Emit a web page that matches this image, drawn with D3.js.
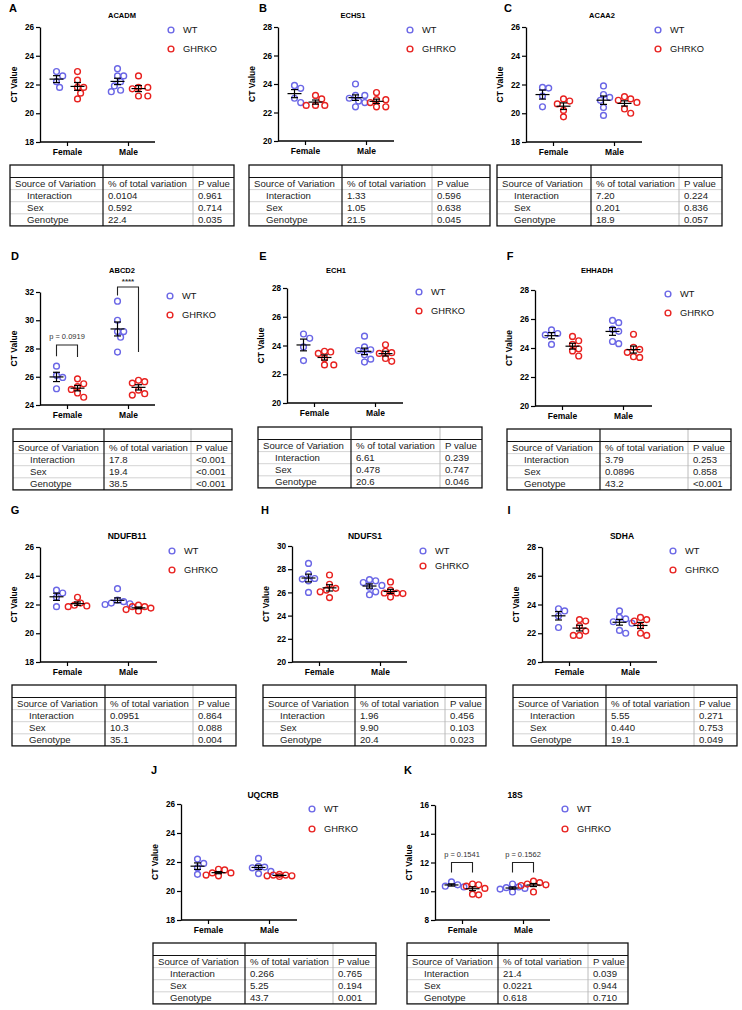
<!DOCTYPE html>
<html><head><meta charset="utf-8">
<script src="https://cdn.jsdelivr.net/npm/d3@7"></script>
<style>body{margin:0;background:#fff} svg{display:block} text{font-family:Arial,"Liberation Sans",sans-serif}</style>
</head><body><svg id="c" width="742" height="1010"></svg>
<script>
// ---------------- DATA ----------------
const genes = ["ACADM","ECHS1","ACAA2","ABCD2","ECH1","EHHADH","NDUFB11","NDUFS1","SDHA","UQCRB","18S"];
const panelLetters = ["A","B","C","D","E","F","G","H","I","J","K"];
const sexes = ["Female","Male"];
const genotypes = ["WT","GHRKO"];
const sources = ["Interaction","Sex","Genotype"];
const tableHeader = ["Source of Variation","% of total variation","P value"];
const yLabel = "CT Value";

// CT values per gene: [WT Female, GHRKO Female, WT Male, GHRKO Male]
const ACADM  = [[22.9,22.6,22.2,21.8],[22.9,22.3,21.8,21.8,21.4,21.0],[23.1,22.6,22.6,22.2,21.9,21.6,21.5],[22.6,21.8,21.8,21.7,21.2,21.2]];
const ECHS1  = [[23.9,23.7,22.7,23.0],[23.2,22.95,22.5,22.5,22.5],[24.0,23.2,23.2,23.0,22.8,22.7,22.4],[23.4,22.9,22.9,22.7,22.4,22.4]];
const ACAA2  = [[21.8,21.75,21.2,20.45],[21.0,20.85,20.65,20.2,19.75],[21.9,21.3,21.1,20.9,20.4,19.85],[21.0,21.15,20.9,20.75,20.3,20.0]];
const ABCD2  = [[26.75,26.1,25.95,25.15],[25.85,25.5,25.3,25.1,24.85,24.55],[31.35,30.0,29.2,29.2,28.8,27.75],[25.65,25.75,25.55,25.05,24.7,24.8]];
const ECH1   = [[24.5,24.8,23.9,22.95],[23.55,23.6,23.45,23.1,22.65,22.65],[24.65,23.9,23.7,23.65,23.35,23.05,22.85],[24.05,23.6,23.5,23.45,22.9,23.1]];
const EHHADH = [[25.0,25.25,24.9,24.25],[24.8,24.5,24.25,23.95,23.8,23.45],[25.75,25.9,25.3,25.15,24.3,24.45],[24.95,24.05,23.9,23.7,23.35,23.4]];
const NDUFB11= [[22.8,23.0,22.5,21.85],[22.5,22.1,21.95,21.85,21.9],[23.1,22.3,22.2,22.0,22.05,22.1],[21.95,21.85,21.85,21.75,21.55,21.65]];
const NDUFS1 = [[28.5,27.6,27.15,27.0,27.2,26.0],[27.5,26.7,26.35,26.2,26.05,25.55],[26.85,27.0,27.1,26.45,25.8,26.05,26.6],[26.9,26.2,25.95,25.9,25.6,25.95]];
const SDHA   = [[23.55,23.7,23.2,22.4],[22.85,22.95,22.5,22.15,21.85,21.85],[23.55,23.1,23.0,22.7,22.0,22.2,22.8],[23.1,22.95,22.85,22.5,21.85,22.0]];
const UQCRB  = [[21.9,22.2,21.6,21.15],[21.45,21.5,21.25,21.05,21.25,21.1],[22.25,21.7,21.6,21.2,21.35,21.65],[21.05,21.1,21.05,21.0,21.1,21.15]];
const S18    = [[10.35,10.65,10.45,10.3],[10.45,10.5,10.2,9.75,9.8,10.35],[10.15,10.25,10.5,10.2,9.95,10.3],[10.7,10.6,10.45,10.4,9.95,10.5]];
const ctValues = [ACADM,ECHS1,ACAA2,ABCD2,ECH1,EHHADH,NDUFB11,NDUFS1,SDHA,UQCRB,S18];

// y-axis domains [min, max] and tick step
const yDomains = [[18,26],[20,28],[18,26],[24,32],[20,28],[20,28],[18,26],[20,30],[20,28],[18,26],[8,16]];
const yTickStep = 2;

// Two-way ANOVA tables
const pctVariation = [["0.0104","0.592","22.4"],["1.33","1.05","21.5"],["7.20","0.201","18.9"],["17.8","19.4","38.5"],["6.61","0.478","20.6"],["3.79","0.0896","43.2"],["0.0951","10.3","35.1"],["1.96","9.90","20.4"],["5.55","0.440","19.1"],["0.266","5.25","43.7"],["21.4","0.0221","0.618"]];
const pValues = [["0.961","0.714","0.035"],["0.596","0.638","0.045"],["0.224","0.836","0.057"],["<0.001","<0.001","<0.001"],["0.239","0.747","0.046"],["0.253","0.858","<0.001"],["0.864","0.088","0.004"],["0.456","0.103","0.023"],["0.271","0.753","0.049"],["0.765","0.194","0.001"],["0.039","0.944","0.710"]];

// Comparison brackets: [gene index, sex1, geno1, sex2, geno2, y top, y leg1 end, y leg2 end, label]
const brackets = [
  [3,"Female","WT","Female","GHRKO",28.25,27.45,27.4,"p = 0.0919"],
  [3,"Male","WT","Male","GHRKO",32.35,31.75,27.75,"****"],
  [10,"Female","WT","Female","GHRKO",12.0,11.3,11.3,"p = 0.1541"],
  [10,"Male","WT","Male","GHRKO",12.0,11.3,11.3,"p = 0.1562"]
];

// ---------------- LAYOUT ----------------
const colors = {WT:"#6a66e6", GHRKO:"#e8211f"};
const layout = [
 {ax:40, xe:155, top:27, bot:142, tx:122, ty:15, tfs:7.5, lab:[13,8], leg:[171,30,49], tab:[10,234,103,193,165]},
 {ax:278,xe:394, top:27, bot:141, tx:353, ty:15, tfs:7.5, lab:[263,8], leg:[410,30,49], tab:[249,490,342,432,165]},
 {ax:526,xe:642, top:27, bot:142, tx:602, ty:15, tfs:7.5, lab:[508,8], leg:[658,30,49], tab:[497,722,591,679,165]},
 {ax:40, xe:155, top:292,bot:405, tx:122, ty:270, tfs:7.5, lab:[15,256], leg:[170,296,315], tab:[13,232,104,191,429]},
 {ax:287,xe:403, top:288,bot:403, tx:336, ty:270, tfs:7.5, lab:[263,256], leg:[419,292,311], tab:[258,482,351,440,427]},
 {ax:535,xe:652, top:290,bot:406, tx:597, ty:270, tfs:7.5, lab:[510,256], leg:[668,294,313], tab:[507,731,600,688,429]},
 {ax:40, xe:157, top:547,bot:662, tx:127, ty:536, tfs:8.5, lab:[15,510], leg:[172,551,570], tab:[12,236,105,193,685]},
 {ax:292,xe:407, top:546,bot:662, tx:365, ty:536, tfs:8.5, lab:[265,510], leg:[423,551,566], tab:[263,486,355,445,685]},
 {ax:542,xe:657, top:547,bot:662, tx:622, ty:536, tfs:8.5, lab:[509,510], leg:[673,551,570], tab:[513,737,606,694,685]},
 {ax:181,xe:297, top:804,bot:920, tx:263, ty:795, tfs:8.5, lab:[154,770], leg:[312,809,829], tab:[153,376,245,333,943]},
 {ax:435,xe:550, top:805,bot:920, tx:515, ty:795, tfs:8.5, lab:[408,770], leg:[565,809,829], tab:[407,628,498,588,943]}
];

const svg = d3.select("#c");
const R = 2.9;

// compact beeswarm: each point takes the closest free offset to its group centre
function dodge(vals, y, cx) {
  const pts = vals.map(v => ({v, py: y(v)})).sort((a,b) => a.py - b.py);
  const placed = [], D = 6.2, s = 3.1;
  const cands = [0]; for (let k = 1; k <= 4; k++) cands.push(k*s, -k*s);
  pts.forEach(p => {
    let off = cands.find(c => placed.every(q => Math.hypot(q.px - (cx + c), q.py - p.py) >= D));
    if (off === undefined) off = 0;
    p.px = cx + off; placed.push(p);
  });
  return pts;
}

genes.forEach((gene, gi) => {
  const L = layout[gi];
  const g = svg.append("g");
  const dom = yDomains[gi];
  const y = d3.scaleLinear().domain(dom).range([L.bot, L.top]);
  const xs = d3.scalePoint().domain(sexes).range([L.ax + 27, L.ax + 88]);
  const xg = d3.scalePoint().domain(genotypes).range([-10.5, 10.5]);

  g.append("text").attr("x", L.lab[0]).attr("y", L.lab[1]).attr("dy","0.35em").attr("text-anchor","middle")
    .attr("font-size", 11).attr("font-weight","bold").text(panelLetters[gi]);
  g.append("text").attr("x", L.tx).attr("y", L.ty).attr("dy","0.35em").attr("text-anchor","middle")
    .attr("font-size", L.tfs).attr("font-weight","bold").text(gene);

  const ticks = d3.range(dom[0], dom[1] + 0.001, yTickStep);
  const ya = g.append("g").attr("transform", `translate(${L.ax},0)`)
    .call(d3.axisLeft(y).tickValues(ticks).tickSize(4).tickSizeOuter(0).tickPadding(2));
  ya.select(".domain").attr("stroke","#000").attr("stroke-width",1.3);
  ya.selectAll(".tick line").attr("stroke","#000").attr("stroke-width",1.2);
  ya.selectAll(".tick text").attr("font-size",8.2).attr("font-weight","bold").attr("fill","#000").attr("font-family","Arial, Liberation Sans, sans-serif");

  const xa = g.append("g").attr("transform", `translate(0,${L.bot})`)
    .call(d3.axisBottom(xs).tickSize(4).tickSizeOuter(0).tickPadding(3));
  xa.select(".domain").attr("d", `M${L.ax},0H${L.xe}`).attr("stroke","#000").attr("stroke-width",1.3);
  xa.selectAll(".tick line").attr("stroke","#000").attr("stroke-width",1.2);
  xa.selectAll(".tick text").attr("font-size",8.5).attr("font-weight","bold").attr("fill","#000").attr("font-family","Arial, Liberation Sans, sans-serif");

  g.append("text").attr("transform", `translate(${L.ax - 26},${(L.top + L.bot)/2}) rotate(-90)`)
    .attr("text-anchor","middle").attr("dy","0.35em").attr("font-size",8.5).attr("font-weight","bold").text(yLabel);

  ctValues[gi].forEach((vals, k) => {
    const sex = sexes[Math.floor(k/2)], geno = genotypes[k%2];
    const cx = xs(sex) + xg(geno);
    const pts = dodge(vals, y, cx);
    g.selectAll(null).data(pts).enter().append("circle")
      .attr("cx", d => d.px).attr("cy", d => d.py).attr("r", R)
      .attr("fill","none").attr("stroke", colors[geno]).attr("stroke-width",1.4);
    const m = d3.mean(vals), sem = d3.deviation(vals) / Math.sqrt(vals.length);
    const eb = g.append("g").attr("stroke","#000").attr("stroke-width",1.2).attr("fill","none");
    eb.append("line").attr("x1", cx-7).attr("x2", cx+7).attr("y1", y(m)).attr("y2", y(m));
    eb.append("line").attr("x1", cx).attr("x2", cx).attr("y1", y(m-sem)).attr("y2", y(m+sem));
    eb.append("line").attr("x1", cx-3.5).attr("x2", cx+3.5).attr("y1", y(m-sem)).attr("y2", y(m-sem));
    eb.append("line").attr("x1", cx-3.5).attr("x2", cx+3.5).attr("y1", y(m+sem)).attr("y2", y(m+sem));
  });

  brackets.filter(b => b[0] === gi).forEach(b => {
    const x1 = xs(b[1]) + xg(b[2]), x2 = xs(b[3]) + xg(b[4]);
    g.append("path").attr("d", `M${x1},${y(b[6])}V${y(b[5])}H${x2}V${y(b[7])}`)
      .attr("fill","none").attr("stroke","#222").attr("stroke-width",1.1);
    const star = b[8].startsWith("*");
    g.append("text").attr("x", (x1+x2)/2).attr("y", y(b[5]) - (star ? 3 : 6)).attr("text-anchor","middle")
      .attr("font-size", star ? 8 : 7.5).attr("font-weight", star ? "bold" : "normal").attr("fill","#333").text(b[8]);
  });

  genotypes.forEach((geno, j) => {
    const ly = L.leg[1 + j];
    g.append("circle").attr("cx", L.leg[0]).attr("cy", ly).attr("r", R).attr("fill","none")
      .attr("stroke", colors[geno]).attr("stroke-width",1.4);
    g.append("text").attr("x", L.leg[0] + 12).attr("y", ly).attr("dy","0.35em").attr("font-size",9.3).attr("fill","#111").text(geno);
  });

  const [x0, x1, d1, d2, top] = L.tab;
  const h0 = 12.5, rh = 12.1;
  const bottom = top + h0 + 4*rh;
  const tg = g.append("g");
  for (let i = 1; i < 4; i++) {
    tg.append("line").attr("x1", x0).attr("x2", x1).attr("y1", top + h0 + i*rh).attr("y2", top + h0 + i*rh)
      .attr("stroke","#c8c8c8").attr("stroke-width",0.8);
  }
  tg.append("line").attr("x1", d2).attr("x2", d2).attr("y1", top).attr("y2", bottom).attr("stroke","#b4b4b4").attr("stroke-width",0.9);
  tg.append("line").attr("x1", x0).attr("x2", x1).attr("y1", top + h0).attr("y2", top + h0).attr("stroke","#111").attr("stroke-width",1);
  tg.append("line").attr("x1", d1).attr("x2", d1).attr("y1", top).attr("y2", bottom).attr("stroke","#111").attr("stroke-width",1.2);
  tg.append("rect").attr("x", x0).attr("y", top).attr("width", x1 - x0).attr("height", bottom - top)
    .attr("fill","none").attr("stroke","#111").attr("stroke-width",1.3);
  const rows = [tableHeader].concat(sources.map((s, i) => [s, pctVariation[gi][i], pValues[gi][i]]));
  rows.forEach((r, i) => {
    const cy = top + h0 + i*rh + rh/2;
    [[x0 + (i === 0 ? 5 : 17), r[0]], [d1 + 5, r[1]], [d2 + 5, r[2]]].forEach(([tx, t]) => {
      tg.append("text").attr("x", tx).attr("y", cy).attr("dy","0.36em").attr("font-size",9.6).attr("fill","#222").text(t);
    });
  });
});
</script></body></html>
